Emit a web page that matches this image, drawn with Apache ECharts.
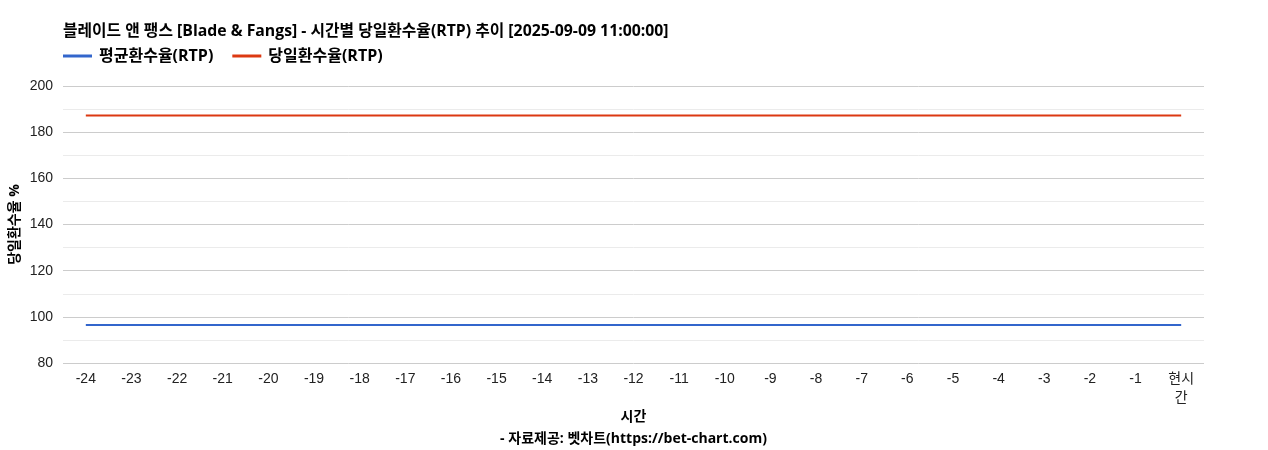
<!DOCTYPE html>
<html><head><meta charset="utf-8">
<script src="https://cdn.jsdelivr.net/npm/echarts@6/dist/echarts.min.js"></script>
<style>html,body{margin:0;padding:0;background:#fff}#c{width:1268px;height:450px}</style>
</head><body><div id="c"></div>
<script>
const titleText = '블레이드 앤 팽스 [Blade & Fangs] - 시간별 당일환수율(RTP) 추이 [2025-09-09 11:00:00]';
const categories = ['-24','-23','-22','-21','-20','-19','-18','-17','-16','-15','-14','-13','-12','-11','-10','-9','-8','-7','-6','-5','-4','-3','-2','-1','현시\n간'];
const avgRtp = [96.5,96.5,96.5,96.5,96.5,96.5,96.5,96.5,96.5,96.5,96.5,96.5,96.5,96.5,96.5,96.5,96.5,96.5,96.5,96.5,96.5,96.5,96.5,96.5,96.5];
const dayRtp = [187.2,187.2,187.2,187.2,187.2,187.2,187.2,187.2,187.2,187.2,187.2,187.2,187.2,187.2,187.2,187.2,187.2,187.2,187.2,187.2,187.2,187.2,187.2,187.2,187.2];
const boldFont = "'Open Sans','Noto Sans CJK KR',sans-serif";
const tickFont = "'Liberation Sans','Noto Sans CJK KR',sans-serif";
const chart = echarts.init(document.getElementById('c'));
chart.setOption({
  animation: false,
  title: {text: titleText, left: 58, top: 19, textStyle: {fontFamily: boldFont, fontWeight: 'bold', fontSize: 15.8, color: '#000'}},
  legend: {left: 58, top: 43, itemWidth: 29, itemHeight: 3, itemGap: 19, icon: 'rect',
    textStyle: {fontFamily: boldFont, fontWeight: 'bold', fontSize: 16, color: '#000', padding: [0,0,0,2]},
    data: ['평균환수율(RTP)', '당일환수율(RTP)']},
  grid: {left: 63, right: 64, top: 86, bottom: 87, outerBoundsMode: 'none', containLabel: false},
  xAxis: {type: 'category', data: categories, boundaryGap: true,
    axisLine: {show: false}, axisTick: {show: false},
    axisLabel: {interval: 0, fontFamily: tickFont, fontSize: 14, color: '#222', margin: 7, lineHeight: 19},
    name: '시간\n- 자료제공: 벳차트(https://bet-chart.com)', nameLocation: 'middle', nameGap: 43, nameMoveOverlap: false,
    nameTextStyle: {fontFamily: boldFont, fontWeight: 'bold', fontSize: 14, color: '#000', lineHeight: 22}},
  yAxis: {type: 'value', min: 80, max: 200, interval: 20,
    axisLine: {show: false}, axisTick: {show: false},
    axisLabel: {fontFamily: tickFont, fontSize: 14, color: '#222', margin: 10},
    splitLine: {lineStyle: {color: '#cccccc', width: 1}},
    minorTick: {show: false, splitNumber: 2},
    minorSplitLine: {show: true, lineStyle: {color: '#ebebeb', width: 1}},
    name: '당일환수율 %', nameLocation: 'middle', nameGap: 41, nameRotate: 90, nameMoveOverlap: false,
    nameTextStyle: {fontFamily: boldFont, fontWeight: 'bold', fontSize: 14, color: '#000'}},
  series: [
    {name: '평균환수율(RTP)', type: 'line', data: avgRtp, showSymbol: false, symbol: 'none',
      lineStyle: {color: '#3366cc', width: 2}, itemStyle: {color: '#3366cc'}},
    {name: '당일환수율(RTP)', type: 'line', data: dayRtp, showSymbol: false, symbol: 'none',
      lineStyle: {color: '#dc3912', width: 2}, itemStyle: {color: '#dc3912'}}
  ]
});
</script></body></html>
